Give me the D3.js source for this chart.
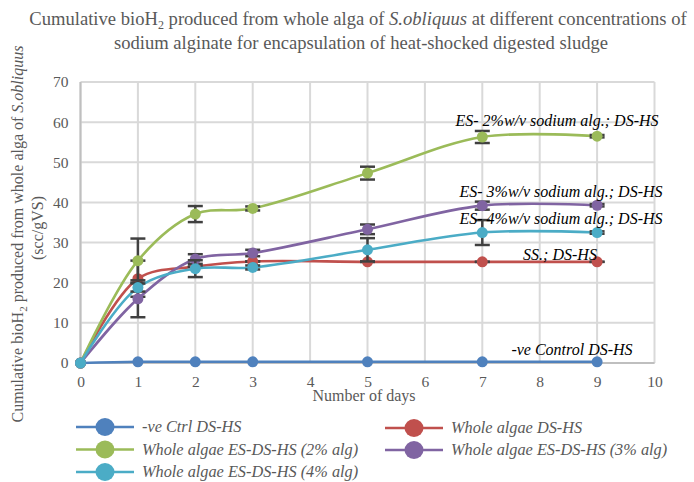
<!DOCTYPE html>
<html><head><meta charset="utf-8">
<script src="https://cdn.jsdelivr.net/npm/d3@7"></script>
<style>body{margin:0;background:#fff}svg{display:block}text{font-family:"Liberation Serif","Times New Roman","DejaVu Serif",serif}</style>
</head><body><svg id="c" width="694" height="482"></svg>
<script>
const days = [0,1,2,3,5,7,9];
const xTicks = [0,1,2,3,4,5,6,7,8,9,10];
const yTicks = [0,10,20,30,40,50,60,70];
const seriesNames = ["-ve Ctrl DS-HS","Whole algae DS-HS","Whole algae ES-DS-HS (2% alg)","Whole algae ES-DS-HS (3% alg)","Whole algae ES-DS-HS (4% alg)"];
const negCtrl = [0,0.3,0.3,0.3,0.3,0.3,0.3];
const wholeDS = [0,21,24,25.3,25.2,25.2,25.2];
const es2 = [0,25.5,37.1,38.5,47.3,56.3,56.5];
const es3 = [0,16,25.9,27.4,33.3,39.2,39.3];
const es4 = [0,18.8,23.5,23.8,28.2,32.5,32.5];
const errWholeDS = [null,4.5,0,0,0,0,0];
const errEs2 = [null,5.5,2,0.5,1.6,1.5,0.3];
const errEs3 = [null,4.6,1.2,0.8,1.2,1,0.3];
const errEs4 = [null,1,2.1,0.5,2.9,3.1,0.3];
const endLabels = ["-ve Control DS-HS","SS.; DS-HS","ES- 2%w/v sodium alg.; DS-HS","ES- 3%w/v sodium alg.; DS-HS","ES- 4%w/v sodium alg.; DS-HS"];
const colors = ["#4F81BD","#C0504D","#9BBB59","#8064A2","#4BACC6"];

const series = [
  {name:seriesNames[0], vals:negCtrl, err:null, color:colors[0], label:endLabels[0], lx:572, ly:355},
  {name:seriesNames[1], vals:wholeDS, err:errWholeDS, color:colors[1], label:endLabels[1], lx:560, ly:260},
  {name:seriesNames[2], vals:es2, err:errEs2, color:colors[2], label:endLabels[2], lx:557, ly:126},
  {name:seriesNames[3], vals:es3, err:errEs3, color:colors[3], label:endLabels[3], lx:561, ly:197},
  {name:seriesNames[4], vals:es4, err:errEs4, color:colors[4], label:endLabels[4], lx:561, ly:224}
];

const svg = d3.select("#c");
const L=80.5, R=654.5, T=82, B=363;
const x = d3.scaleLinear().domain([0,10]).range([L,R]);
const y = d3.scaleLinear().domain([0,70]).range([B,T]);

// title
const title = svg.append("text").attr("x",358).attr("y",25).attr("text-anchor","middle").attr("font-size",18.6).attr("fill","#595959");
title.append("tspan").text("Cumulative bioH");
title.append("tspan").text("2").attr("font-size",12).attr("dy",4);
title.append("tspan").text(" produced from whole alga of ").attr("dy",-4);
title.append("tspan").text("S.obliquus").attr("font-style","italic");
title.append("tspan").text(" at different concentrations of");
svg.append("text").attr("x",361).attr("y",49).attr("text-anchor","middle").attr("font-size",18.6).attr("fill","#595959")
  .text("sodium alginate for encapsulation of heat-shocked digested sludge");

// grid
const g = svg.append("g");
g.selectAll(".hg").data(yTicks).join("line").attr("x1",L).attr("x2",R).attr("y1",d=>y(d)).attr("y2",d=>y(d))
  .attr("stroke","#D9D9D9").attr("stroke-width",2);
g.selectAll(".vg").data(xTicks).join("line").attr("y1",T).attr("y2",B).attr("x1",d=>x(d)).attr("x2",d=>x(d))
  .attr("stroke","#D9D9D9").attr("stroke-width",2);
g.append("line").attr("x1",L).attr("x2",R).attr("y1",B).attr("y2",B).attr("stroke","#BFBFBF").attr("stroke-width",2);
g.append("line").attr("x1",L).attr("x2",L).attr("y1",T).attr("y2",B).attr("stroke","#BFBFBF").attr("stroke-width",2);

const yAxis = svg.append("g").attr("transform",`translate(${L},0)`).call(d3.axisLeft(y).tickValues(yTicks).tickSize(0).tickPadding(12));
yAxis.select(".domain").remove();
yAxis.selectAll("text").attr("font-size",15.5).attr("fill","#595959").attr("font-family","Liberation Serif");
const xAxis = svg.append("g").attr("transform",`translate(0,${B})`).call(d3.axisBottom(x).tickValues(xTicks).tickSize(0).tickPadding(13));
xAxis.select(".domain").remove();
xAxis.selectAll("text").attr("font-size",15.5).attr("fill","#595959").attr("font-family","Liberation Serif");

svg.append("text").attr("x",364).attr("y",401).attr("text-anchor","middle").attr("font-size",16).attr("fill","#595959").text("Number of days");
const yt = svg.append("text").attr("transform","translate(23,234) rotate(-90)").attr("text-anchor","middle").attr("font-size",16).attr("fill","#595959");
yt.append("tspan").text("Cumulative bioH");
yt.append("tspan").text("2").attr("font-size",11).attr("dy",4);
yt.append("tspan").text(" produced from whole alga of ").attr("dy",-4);
yt.append("tspan").text("S.obliquus").attr("font-style","italic");
svg.append("text").attr("transform","translate(43,228) rotate(-90)").attr("text-anchor","middle").attr("font-size",16).attr("fill","#595959").text("(scc/gVS)");

const line = d3.line().x(d=>x(d[0])).y(d=>y(d[1])).curve(d3.curveCatmullRom.alpha(0.5));
series.forEach(s=>{
  const pts = days.map((d,i)=>[d,s.vals[i]]);
  svg.append("path").attr("d",line(pts)).attr("fill","none").attr("stroke",s.color).attr("stroke-width",2.6);
  if(s.err){
    const eg = svg.append("g").attr("stroke","#404040").attr("stroke-width",2.5);
    pts.forEach((p,i)=>{
      const e = s.err[i]; if(e==null) return;
      const cx = x(p[0]);
      if(e>0) eg.append("line").attr("x1",cx).attr("x2",cx).attr("y1",y(p[1]-e)).attr("y2",y(p[1]+e));
      [p[1]-e,p[1]+e].forEach(v=>eg.append("line").attr("x1",cx-7.5).attr("x2",cx+7.5).attr("y1",y(v)).attr("y2",y(v)));
    });
  }
  svg.append("g").selectAll("circle").data(pts).join("circle").attr("cx",d=>x(d[0])).attr("cy",d=>y(d[1])).attr("r",5.5).attr("fill",s.color);
});
series.forEach(s=>{
  svg.append("text").attr("x",s.lx).attr("y",s.ly).attr("text-anchor","middle").attr("font-size",16).attr("font-style","italic").attr("fill","#000").text(s.label);
});

const legPos = [[105,427],[414,428],[105,449.5],[414,450],[105,472]];
series.forEach((s,k)=>{
  const [cx,cy] = legPos[k];
  const lg = svg.append("g");
  lg.append("line").attr("x1",cx-29).attr("x2",cx+29).attr("y1",cy).attr("y2",cy).attr("stroke",s.color).attr("stroke-width",2.6);
  lg.append("ellipse").attr("cx",cx).attr("cy",cy).attr("rx",9.5).attr("ry",9).attr("fill",s.color);
  lg.append("text").attr("x",cx+37).attr("y",cy+5).attr("font-size",16.3).attr("font-style","italic").attr("fill","#595959").text(s.name);
});
</script></body></html>
